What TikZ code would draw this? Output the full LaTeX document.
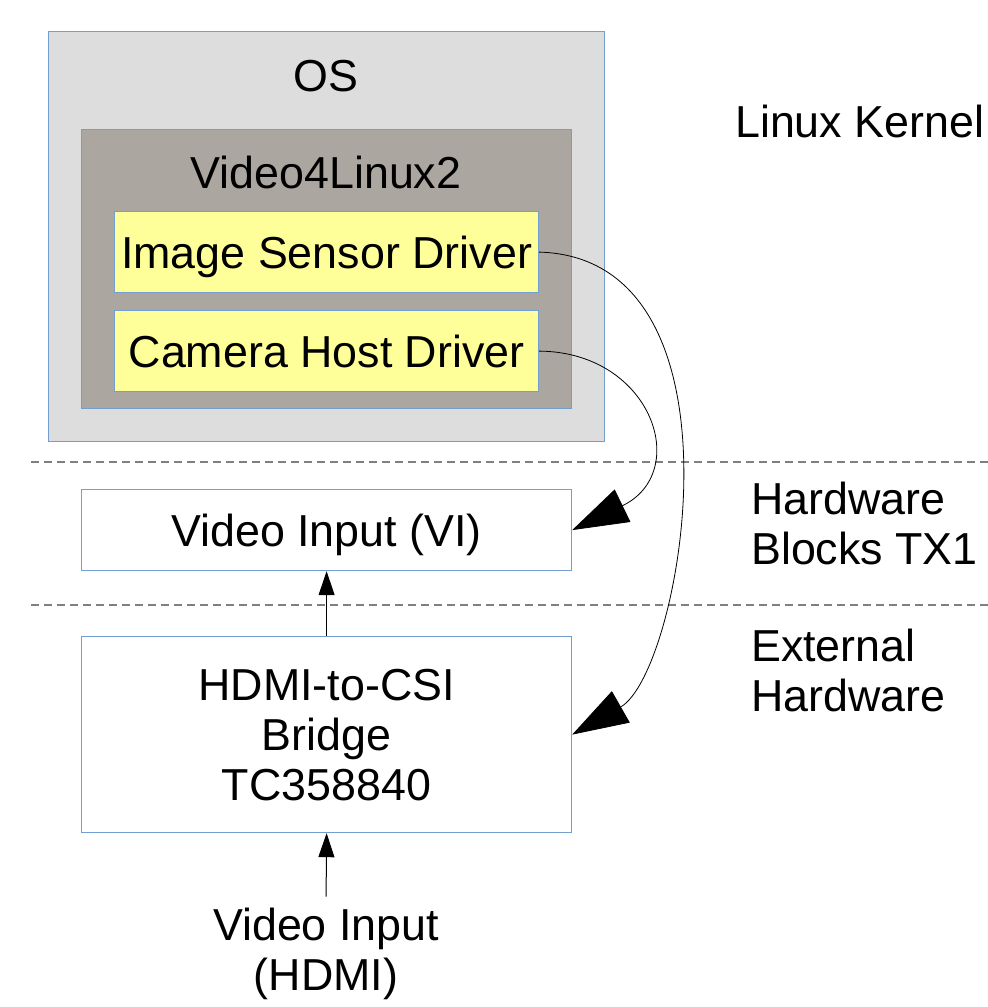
\documentclass[tikz,border=0pt]{standalone}
\usepackage{fontspec}
\setmainfont{Liberation Sans}
\usetikzlibrary{arrows.meta}
\definecolor{osgray}{HTML}{DDDDDD}
\definecolor{v4lgray}{HTML}{ACA6A0}
\definecolor{drvyellow}{HTML}{FFFF99}
\definecolor{edgeblue}{HTML}{729FCF}
\definecolor{sepgray}{HTML}{808080}
\begin{document}
\begin{tikzpicture}[x=1pt,y=-1pt,
  every node/.style={font=\fontsize{44.8}{50}\selectfont, inner sep=0pt},
  block/.style={draw=edgeblue, line width=1.2pt, rectangle, anchor=north west,
    text height=32pt, text depth=0pt},
  driver/.style={block, fill=drvyellow},
  separator/.style={draw=sepgray, line width=1.2pt, dash pattern=on 8pt off 5pt},
  flow/.style={draw=black, line width=1pt, -{Triangle[length=24pt,width=16pt]}},
  callarrow/.style={draw=black, line width=0.8pt, -{Triangle[length=56pt,width=36pt]}}
]
\useasboundingbox (0,0) rectangle (988,1007);

% Linux kernel side
\node[block, fill=osgray, minimum width=556pt, minimum height=410pt] (os) at (48,31) {};
\node[anchor=base] (oslabel) at (326,91) {OS};
\node[block, fill=v4lgray, minimum width=490pt, minimum height=279pt] (v4l) at (81,129) {};
\node[anchor=base] (v4llabel) at (326,188) {Video4Linux2};
\node[driver, minimum width=424pt, minimum height=81pt] (isd) at (114,211) {Image Sensor Driver};
\node[driver, minimum width=424pt, minimum height=81pt] (chd) at (114,310) {Camera Host Driver};

% layer separators
\coordinate (s1a) at (31,462);  \coordinate (s1b) at (988,462);
\coordinate (s2a) at (31,605);  \coordinate (s2b) at (988,605);
\draw[separator] (s1a) -- (s1b);
\draw[separator] (s2a) -- (s2b);

% hardware blocks
\node[block, fill=white, minimum width=490pt, minimum height=81pt] (vi) at (81,489) {Video Input (VI)};
\node[draw=edgeblue, line width=1.2pt, rectangle, anchor=north west, fill=white,
  minimum width=490pt, minimum height=196pt, align=center] (bridge) at (81,636)
  {HDMI-to-CSI\\Bridge\\TC358840};
\node[anchor=north, align=center] (hdmiin) at (326,907.5) {Video Input\\(HDMI)};

% layer labels
\node[anchor=base west] (lk) at (735,137) {Linux Kernel};
\node[anchor=north west, align=left] (hwb) at (751,481.5) {Hardware\\Blocks TX1};
\node[anchor=north west, align=left] (ext) at (751,628.5) {External\\Hardware};

% data flow
\draw[flow] (bridge.north) -- (vi.south);
\draw[flow, shorten <=11pt] (hdmiin.north) -- (bridge.south);

% driver to hardware
\draw[callarrow] (chd.east) .. controls (652,352) and (692,472) .. (vi.east);
\draw[callarrow] (isd.east) .. controls (755,258) and (682,672) .. (bridge.east);
\end{tikzpicture}
\end{document}
